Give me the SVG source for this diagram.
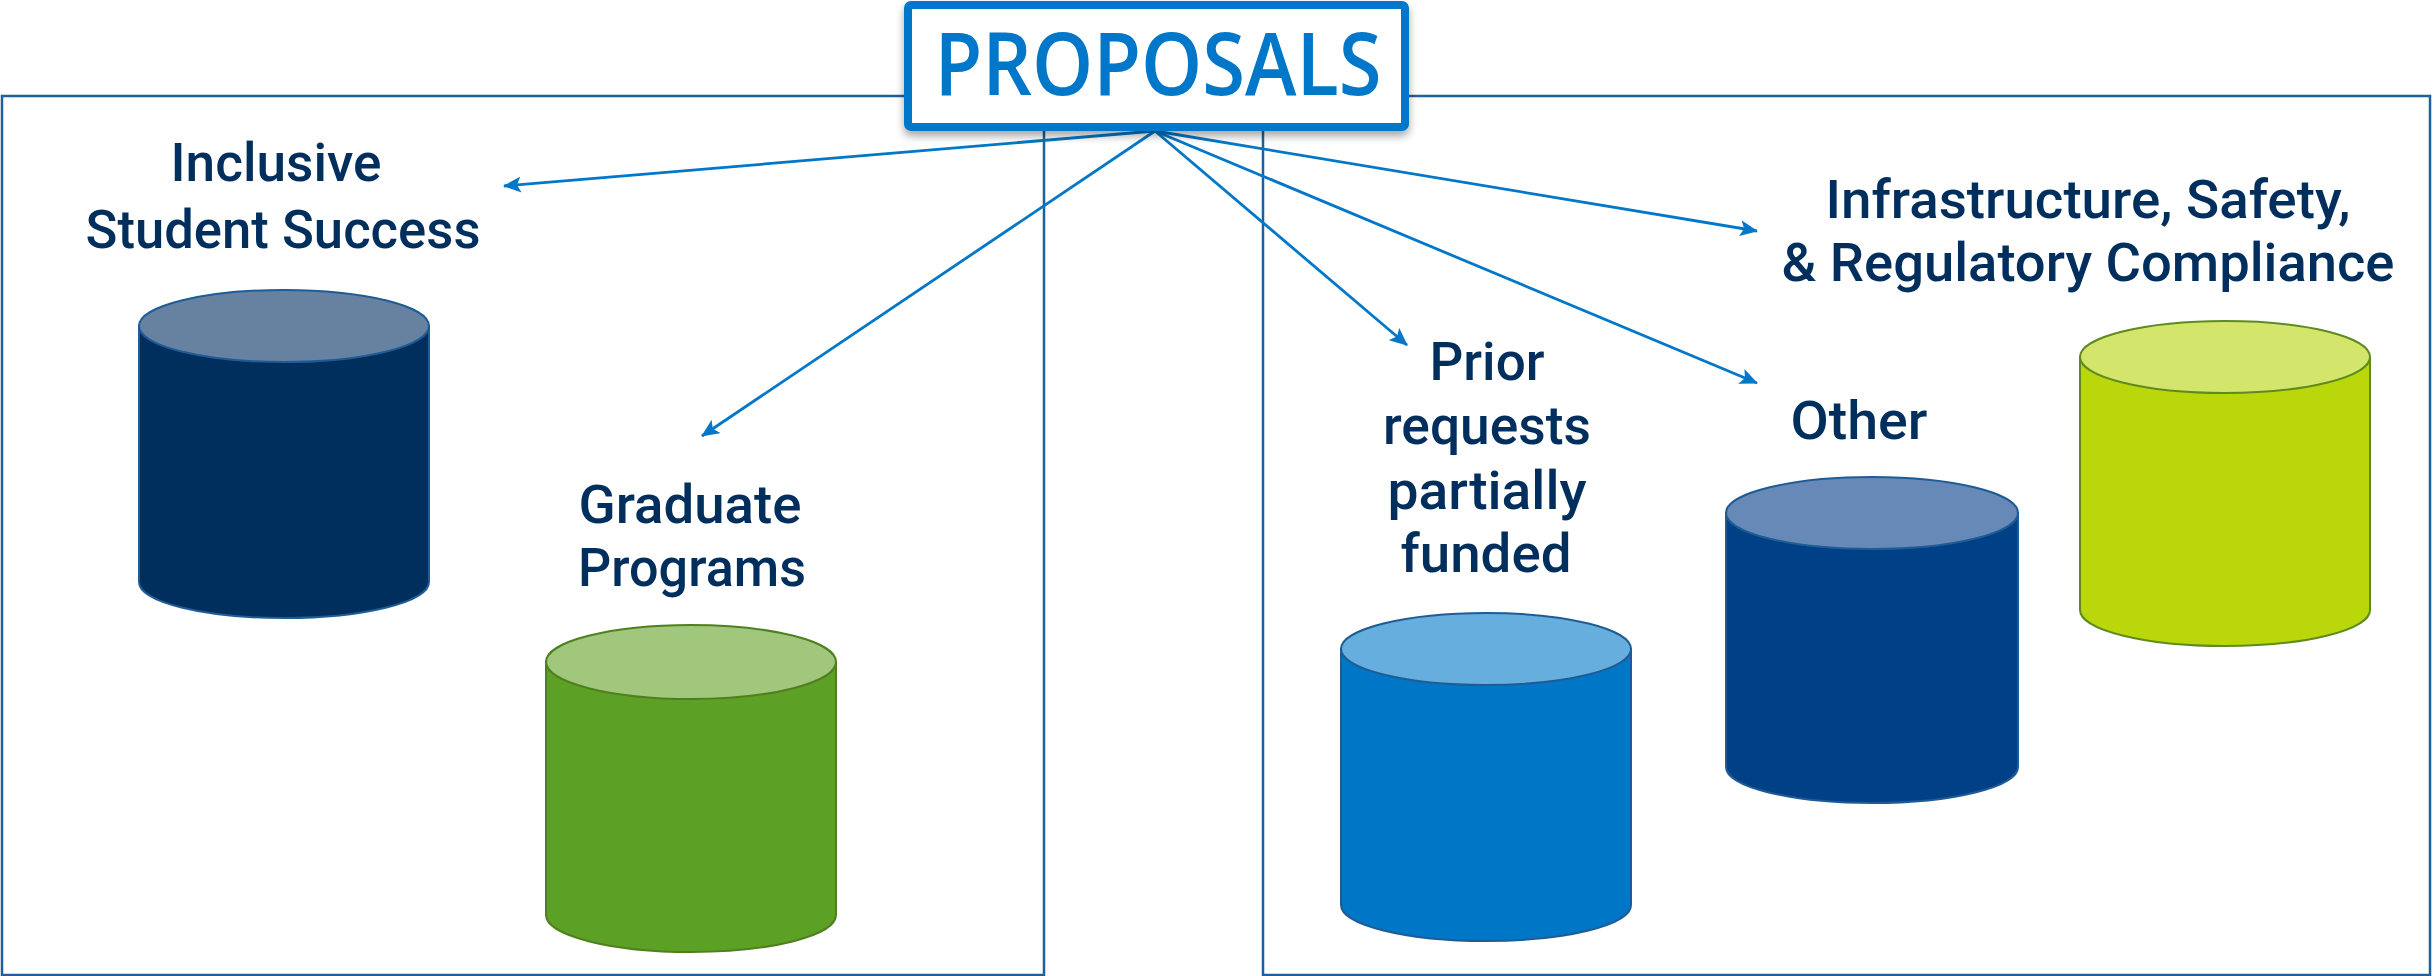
<svg xmlns="http://www.w3.org/2000/svg" width="2433" height="976" viewBox="0 0 2433 976">
<style>
.frame{fill:none;stroke:#1F5F9A;stroke-width:2.5}
.conn{stroke:#0077C8;stroke-width:2.8;fill:none}
.lbl{font-family:Roboto,"Liberation Sans",sans-serif;font-weight:500;font-size:54px;fill:#002E5D;text-anchor:middle}
.title{font-family:"Open Sans","Noto Sans","Liberation Sans",sans-serif;font-weight:600;font-size:87px;fill:#0077C8;text-anchor:middle}
.cs{stroke-width:2}
</style>
<defs>
<marker id="ah" markerUnits="userSpaceOnUse" markerWidth="18" markerHeight="16" viewBox="0 0 18 16" refX="17" refY="8" orient="auto">
<path d="M0,0 L18,8 L0,16 L4,8 Z" fill="#0077C8"/>
</marker>
<filter id="sh" x="-10%" y="-20%" width="120%" height="150%">
<feDropShadow dx="0" dy="5" stdDeviation="4" flood-color="#000" flood-opacity="0.35"/>
</filter>
</defs>

<g id="frames">
<rect class="frame" x="2" y="96" width="1042" height="879"/>
<rect class="frame" x="1263" y="96" width="1167" height="879"/>
</g>

<g id="connectors">
<line class="conn" x1="1155" y1="131" x2="504" y2="186" marker-end="url(#ah)"/>
<line class="conn" x1="1155" y1="131" x2="702" y2="436" marker-end="url(#ah)"/>
<line class="conn" x1="1155" y1="131" x2="1407" y2="345" marker-end="url(#ah)"/>
<line class="conn" x1="1155" y1="131" x2="1757" y2="383" marker-end="url(#ah)"/>
<line class="conn" x1="1155" y1="131" x2="1757" y2="231" marker-end="url(#ah)"/>
</g>

<g id="proposals">
<rect x="908" y="5" width="497" height="122" rx="3" fill="#fff" stroke="#0077C8" stroke-width="8" filter="url(#sh)"/>
<text class="title" x="1158" y="95" textLength="447" lengthAdjust="spacingAndGlyphs">PROPOSALS</text>
</g>

<g id="inclusive">
<path class="cs" d="M139,326 V582 A145,36 0 0 0 429,582 V326 Z" fill="#002F5E" stroke="#1F5C96"/>
<ellipse class="cs" cx="284" cy="326" rx="145" ry="36" fill="#6781A0" stroke="#1F5C96"/>
<text class="lbl" x="276" y="181" textLength="211" lengthAdjust="spacingAndGlyphs">Inclusive</text>
<text class="lbl" x="283" y="248" textLength="395" lengthAdjust="spacingAndGlyphs">Student Success</text>
</g>

<g id="graduate">
<path class="cs" d="M546,662 V915 A145,37 0 0 0 836,915 V662 Z" fill="#5CA125" stroke="#4F7F1F"/>
<ellipse class="cs" cx="691" cy="662" rx="145" ry="37" fill="#A0C77C" stroke="#4F7F1F"/>
<text class="lbl" x="690" y="523" textLength="223" lengthAdjust="spacingAndGlyphs">Graduate</text>
<text class="lbl" x="692" y="586" textLength="228" lengthAdjust="spacingAndGlyphs">Programs</text>
</g>

<g id="prior">
<path class="cs" d="M1341,649 V905 A145,36 0 0 0 1631,905 V649 Z" fill="#0077C6" stroke="#1F5C96"/>
<ellipse class="cs" cx="1486" cy="649" rx="145" ry="36" fill="#66AEDD" stroke="#1F5C96"/>
<text class="lbl" x="1487" y="380" textLength="115" lengthAdjust="spacingAndGlyphs">Prior</text>
<text class="lbl" x="1487" y="444" textLength="208" lengthAdjust="spacingAndGlyphs">requests</text>
<text class="lbl" x="1487" y="509" textLength="199" lengthAdjust="spacingAndGlyphs">partially</text>
<text class="lbl" x="1486" y="572" textLength="171" lengthAdjust="spacingAndGlyphs">funded</text>
</g>

<g id="other">
<path class="cs" d="M1726,513 V767 A146,36 0 0 0 2018,767 V513 Z" fill="#004086" stroke="#1F5C96"/>
<ellipse class="cs" cx="1872" cy="513" rx="146" ry="36" fill="#6689B7" stroke="#1F5C96"/>
<text class="lbl" x="1859" y="439" textLength="137" lengthAdjust="spacingAndGlyphs">Other</text>
</g>

<g id="infrastructure">
<path class="cs" d="M2080,357 V610 A145,36 0 0 0 2370,610 V357 Z" fill="#B9D70B" stroke="#5F8A20"/>
<ellipse class="cs" cx="2225" cy="357" rx="145" ry="36" fill="#D4E56C" stroke="#5F8A20"/>
<text class="lbl" x="2088" y="218" textLength="525" lengthAdjust="spacingAndGlyphs">Infrastructure, Safety,</text>
<text class="lbl" x="2088" y="281" textLength="613" lengthAdjust="spacingAndGlyphs">&amp; Regulatory Compliance</text>
</g>
</svg>
